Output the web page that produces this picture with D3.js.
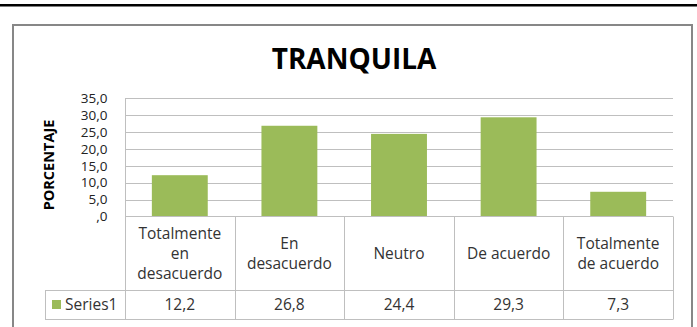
<!DOCTYPE html>
<html>
<head>
<meta charset="utf-8">
<script src="https://cdn.jsdelivr.net/npm/d3@7"></script>
<style>
  html, body { margin: 0; padding: 0; background: #fff; }
  svg { display: block; }
  text { font-family: "Open Sans", "DejaVu Sans", sans-serif; }
</style>
</head>
<body>
<svg id="chart" width="697" height="327"></svg>
<script>
// Survey responses for "TRANQUILA" (percentage per answer)
const categories = [
  ["Totalmente", "en", "desacuerdo"],
  ["En", "desacuerdo"],
  ["Neutro"],
  ["De acuerdo"],
  ["Totalmente", "de acuerdo"]
];
const seriesName = "Series1";
const values = [12.2, 26.8, 24.4, 29.3, 7.3];
const yTicks = [0, 5, 10, 15, 20, 25, 30, 35];
const title = "TRANQUILA";
const yTitle = "PORCENTAJE";

const fmt = v => {
  const s = v.toFixed(1).replace(".", ",");
  return s.startsWith("0,") ? s.slice(1) : s;
};

const svg = d3.select("#chart");
const W = 697, H = 327;
const plot = { left: 125, right: 673, top: 98, bottom: 216.5 };
const tableHeaderBottom = 290, tableBottom = 319, legendLeft = 45;
const barColor = "#9BBB59";
const lineColor = "#BFBFBF";

// page rule above the chart
svg.append("rect").attr("x", 0).attr("y", 4).attr("width", W).attr("height", 2.5).attr("fill", "#000");

// chart frame (continues below the visible area)
svg.append("path")
  .attr("d", `M13,${H + 5} L13,25 L692,25 L692,${H + 5}`)
  .attr("fill", "none").attr("stroke", "#878787").attr("stroke-width", 2);

// title
svg.append("text")
  .attr("x", 354).attr("y", 68.5)
  .attr("text-anchor", "middle")
  .attr("font-size", 28).attr("font-weight", 700).attr("fill", "#000")
  .text(title);

const idx = d3.range(values.length);
const x = d3.scaleBand().domain(idx).range([plot.left, plot.right]).padding(0);
const y = d3.scaleLinear().domain([0, 35]).range([plot.bottom, plot.top]);

// horizontal gridlines
svg.append("g").selectAll("line").data(yTicks.filter(t => t > 0)).join("line")
  .attr("x1", plot.left).attr("x2", plot.right)
  .attr("y1", d => Math.round(y(d)) + 0.5).attr("y2", d => Math.round(y(d)) + 0.5)
  .attr("stroke", lineColor).attr("stroke-width", 1);

// y axis via d3.axisLeft, restyled to match a spreadsheet chart
const yAxis = svg.append("g")
  .attr("transform", `translate(${plot.left + 0.5},0)`)
  .call(d3.axisLeft(y).tickValues(yTicks).tickFormat(fmt).tickSize(0).tickPadding(18));
yAxis.select(".domain").attr("stroke", lineColor).attr("d", `M0,${plot.top}V${plot.bottom}`);
yAxis.selectAll("text")
  .attr("font-family", "'DejaVu Sans', sans-serif")
  .attr("font-size", 13.5).attr("fill", "#222");

// y axis title
svg.append("text")
  .attr("transform", `translate(54,165) rotate(-90)`)
  .attr("text-anchor", "middle")
  .attr("font-size", 14.5).attr("font-weight", 700).attr("fill", "#000")
  .text(yTitle);

// bars
const barW = x.bandwidth() * 0.51;
svg.append("g").selectAll("rect").data(values).join("rect")
  .attr("x", (d, i) => x(i) + (x.bandwidth() - barW) / 2)
  .attr("width", barW)
  .attr("y", d => y(d))
  .attr("height", d => y(0) - y(d))
  .attr("fill", barColor);

// data table
const t = svg.append("g").attr("stroke", lineColor).attr("stroke-width", 1).attr("fill", "none");
// horizontal rules
t.append("line").attr("x1", plot.left).attr("x2", plot.right).attr("y1", plot.bottom).attr("y2", plot.bottom);
t.append("line").attr("x1", legendLeft).attr("x2", plot.right).attr("y1", tableHeaderBottom + 0.5).attr("y2", tableHeaderBottom + 0.5);
t.append("line").attr("x1", legendLeft).attr("x2", plot.right).attr("y1", tableBottom + 0.5).attr("y2", tableBottom + 0.5);
// vertical rules
const edges = idx.map(i => x(i)).concat([plot.right]);
t.selectAll("line.v").data(edges).join("line").attr("class", "v")
  .attr("x1", d => Math.round(d) + 0.5).attr("x2", d => Math.round(d) + 0.5)
  .attr("y1", plot.bottom).attr("y2", tableBottom + 0.5);
t.append("line").attr("x1", legendLeft + 0.5).attr("x2", legendLeft + 0.5)
  .attr("y1", tableHeaderBottom + 0.5).attr("y2", tableBottom + 0.5);

// category labels (multi-line, centred in header cells)
const lineH = 20;
const headMid = (plot.bottom + tableHeaderBottom) / 2;
const cat = svg.append("g").selectAll("text").data(categories).join("text")
  .attr("text-anchor", "middle")
  .attr("font-size", 15.5).attr("fill", "#333");
cat.each(function (lines, i) {
  const cx = x(i) + x.bandwidth() / 2;
  const y0 = headMid - (lines.length - 1) * lineH / 2 + 5.5;
  d3.select(this).selectAll("tspan").data(lines).join("tspan")
    .attr("x", cx).attr("y", (d, k) => y0 + k * lineH).text(d => d);
});

// value row
const rowMid = (tableHeaderBottom + tableBottom) / 2;
svg.append("g").selectAll("text").data(values).join("text")
  .attr("x", (d, i) => x(i) + x.bandwidth() / 2)
  .attr("y", rowMid + 5.5)
  .attr("text-anchor", "middle")
  .attr("font-size", 15.5).attr("fill", "#333")
  .text(d => fmt(d));

// legend key in the table
svg.append("rect").attr("x", 52).attr("y", rowMid - 4.5).attr("width", 9).attr("height", 9).attr("fill", barColor);
svg.append("text").attr("x", 65).attr("y", rowMid + 5.5)
  .attr("font-size", 15.5).attr("fill", "#333").text(seriesName);
</script>
</body>
</html>
